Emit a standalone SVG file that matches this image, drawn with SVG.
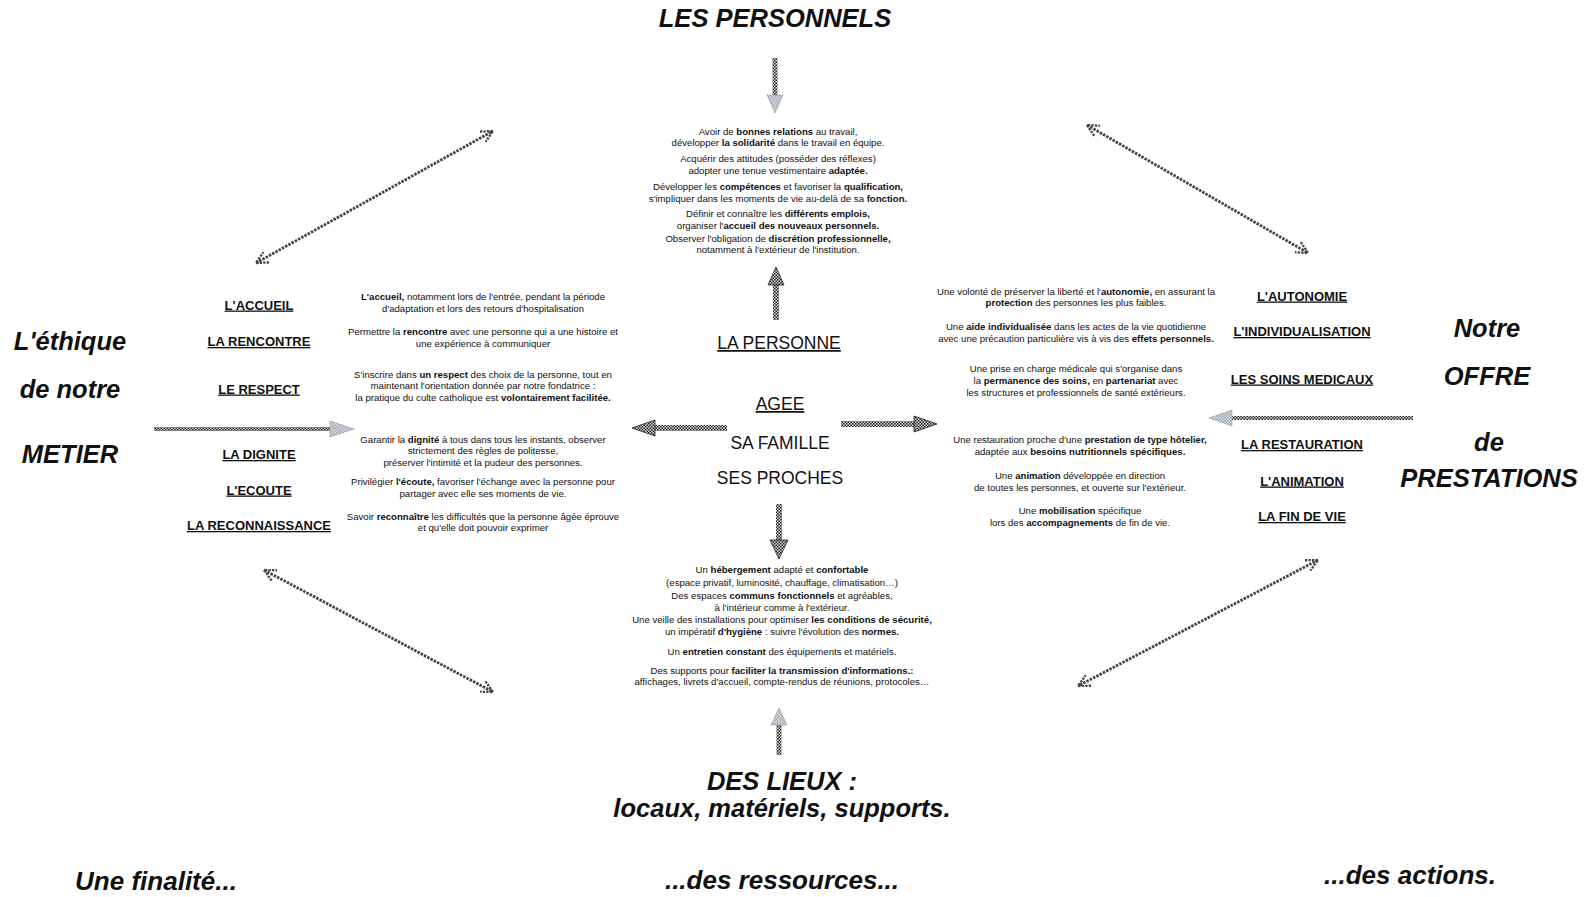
<svg xmlns="http://www.w3.org/2000/svg" width="1586" height="897" viewBox="0 0 1586 897">
<style>
.t{font-family:"Liberation Sans",Arial,sans-serif;fill:#111;text-anchor:middle}
.big{font-size:25.5px;font-weight:bold;font-style:italic}
.foot{font-size:26px}
.lab{font-size:13px;font-weight:bold;text-decoration:underline}
.mid{font-size:17.5px}
.s{font-size:9.6px}
.b{font-weight:bold}
.diag{fill:none;stroke:#444;stroke-width:2.8;stroke-dasharray:2.5 1.2}
</style>
<defs>
<pattern id="chk" width="3" height="3" patternUnits="userSpaceOnUse">
<rect width="3" height="3" fill="#e8e8e8"/>
<rect width="1.5" height="1.5" fill="#111"/>
<rect x="1.5" y="1.5" width="1.5" height="1.5" fill="#111"/>
</pattern>
<pattern id="chkL" width="3" height="3" patternUnits="userSpaceOnUse">
<rect width="3" height="3" fill="#dfe3ea"/>
<rect width="1.5" height="1.5" fill="#9aa0aa"/>
<rect x="1.5" y="1.5" width="1.5" height="1.5" fill="#9aa0aa"/>
</pattern>
<marker id="ah" viewBox="0 0 12 12" refX="11" refY="6" markerWidth="14" markerHeight="14" markerUnits="userSpaceOnUse" orient="auto-start-reverse">
<path d="M1,1 L11,6 L1,11" fill="none" stroke="#444" stroke-width="2" stroke-dasharray="2 1"/>
</marker>
</defs>

<g id="connectors">
<line class="diag" x1="256" y1="263" x2="493" y2="131" marker-start="url(#ah)" marker-end="url(#ah)"/>
<line class="diag" x1="1087" y1="125" x2="1308" y2="253" marker-start="url(#ah)" marker-end="url(#ah)"/>
<line class="diag" x1="264" y1="570" x2="493" y2="692" marker-start="url(#ah)" marker-end="url(#ah)"/>
<line class="diag" x1="1318" y1="560" x2="1078" y2="686" marker-start="url(#ah)" marker-end="url(#ah)"/>
<g id="arrow-top">
<rect x="772.5" y="58" width="5" height="38" fill="url(#chk)"/>
<polygon points="767,95 783,95 775,113" fill="url(#chkL)" stroke="#888" stroke-width="0.8" stroke-dasharray="1.5 1"/>
</g>
<g id="arrow-personne">
<rect x="773" y="284" width="6" height="36" fill="url(#chk)"/>
<polygon points="776,267 784,285 768,285" fill="url(#chk)" stroke="#222" stroke-width="0.8"/>
</g>
<g id="arrow-left">
<rect x="653" y="425" width="74" height="6" fill="url(#chk)"/>
<polygon points="632,428 655,420 655,436" fill="url(#chk)" stroke="#222" stroke-width="0.8"/>
</g>
<g id="arrow-right">
<rect x="841" y="421" width="74" height="6" fill="url(#chk)"/>
<polygon points="937,424 914,416 914,432" fill="url(#chk)" stroke="#222" stroke-width="0.8"/>
</g>
<g id="arrow-down">
<rect x="776" y="504" width="6" height="37" fill="url(#chk)"/>
<polygon points="770,540 788,540 779,559" fill="url(#chk)" stroke="#222" stroke-width="0.8"/>
</g>
<g id="arrow-bottom">
<rect x="776.5" y="724" width="5" height="31" fill="url(#chk)"/>
<polygon points="779,708 787,725 771,725" fill="url(#chkL)" stroke="#888" stroke-width="0.8" stroke-dasharray="1.5 1"/>
</g>
<g id="arrow-ethique">
<rect x="154" y="427" width="178" height="4" fill="url(#chk)"/>
<polygon points="354,429 330,421 330,437" fill="url(#chkL)" stroke="#888" stroke-width="0.8" stroke-dasharray="1.5 1"/>
</g>
<g id="arrow-offre">
<rect x="1230" y="416" width="183" height="4" fill="url(#chk)"/>
<polygon points="1209,418 1232,410 1232,426" fill="url(#chkL)" stroke="#888" stroke-width="0.8" stroke-dasharray="1.5 1"/>
</g>
</g>

<g id="les-personnels"><text class="t big" x="775" y="27">LES PERSONNELS</text></g>

<g id="personnels-text" class="t s">
<text x="778" y="135">Avoir de <tspan class="b">bonnes relations</tspan> au travail,</text>
<text x="778" y="146">développer <tspan class="b">la solidarité</tspan> dans le travail en équipe.</text>
<text x="778" y="162">Acquérir des attitudes (posséder des réflexes)</text>
<text x="778" y="174">adopter une tenue vestimentaire <tspan class="b">adaptée.</tspan></text>
<text x="778" y="190">Développer les <tspan class="b">compétences</tspan> et favoriser la <tspan class="b">qualification,</tspan></text>
<text x="778" y="202">s'impliquer dans les moments de vie au-delà de sa <tspan class="b">fonction.</tspan></text>
<text x="778" y="216.5">Définir et connaître les <tspan class="b">différents emplois,</tspan></text>
<text x="778" y="228.5">organiser l'<tspan class="b">accueil des nouveaux personnels.</tspan></text>
<text x="778" y="241.5">Observer l'obligation de <tspan class="b">discrétion professionnelle,</tspan></text>
<text x="778" y="253">notamment à l'extérieur de l'institution.</text>
</g>

<g id="personne">
<text class="t mid" x="779" y="349" style="text-decoration:underline">LA PERSONNE</text>
<text class="t mid" x="780" y="410" style="text-decoration:underline">AGEE</text>
<text class="t mid" x="780" y="448.5">SA FAMILLE</text>
<text class="t mid" x="780" y="484">SES PROCHES</text>
</g>

<g id="ethique">
<text class="t big" x="70" y="350">L'éthique</text>
<text class="t big" x="70" y="398">de notre</text>
<text class="t big" x="70" y="463">METIER</text>
</g>

<g id="ethique-labels" class="t lab">
<text x="259" y="309.5">L'ACCUEIL</text>
<text x="259" y="346">LA RENCONTRE</text>
<text x="259" y="393.5">LE RESPECT</text>
<text x="259" y="459">LA DIGNITE</text>
<text x="259" y="494.5">L'ECOUTE</text>
<text x="259" y="530">LA RECONNAISSANCE</text>
</g>

<g id="ethique-text" class="t s">
<text x="483" y="299.5"><tspan class="b">L'accueil,</tspan> notamment lors de l'entrée, pendant la période</text>
<text x="483" y="311.5">d'adaptation et lors des retours d'hospitalisation</text>
<text x="483" y="335">Permettre la <tspan class="b">rencontre</tspan> avec une personne qui a une histoire et</text>
<text x="483" y="347">une expérience à communiquer</text>
<text x="483" y="377.5">S'inscrire dans <tspan class="b">un respect</tspan> des choix de la personne, tout en</text>
<text x="483" y="388.5">maintenant l'orientation donnée par notre fondatrice :</text>
<text x="483" y="400.5">la pratique du culte catholique est <tspan class="b">volontairement facilitée.</tspan></text>
<text x="483" y="443">Garantir la <tspan class="b">dignité</tspan> à tous dans tous les instants, observer</text>
<text x="483" y="454">strictement des règles de politesse,</text>
<text x="483" y="465.5">préserver l'intimité et la pudeur des personnes.</text>
<text x="483" y="484.5">Privilégier <tspan class="b">l'écoute,</tspan> favoriser l'échange avec la personne pour</text>
<text x="483" y="496.5">partager avec elle ses moments de vie.</text>
<text x="483" y="520">Savoir <tspan class="b">reconnaître</tspan> les difficultés que la personne âgée éprouve</text>
<text x="483" y="531">et qu'elle doit pouvoir exprimer</text>
</g>

<g id="offre">
<text class="t big" x="1487" y="337">Notre</text>
<text class="t big" x="1487" y="385">OFFRE</text>
<text class="t big" x="1489" y="450.5">de</text>
<text class="t big" x="1489" y="486.5">PRESTATIONS</text>
</g>

<g id="offre-labels" class="t lab">
<text x="1302" y="300.5">L'AUTONOMIE</text>
<text x="1302" y="336">L'INDIVIDUALISATION</text>
<text x="1302" y="383.5">LES SOINS MEDICAUX</text>
<text x="1302" y="449">LA RESTAURATION</text>
<text x="1302" y="485.5">L'ANIMATION</text>
<text x="1302" y="521">LA FIN DE VIE</text>
</g>

<g id="offre-text" class="t s">
<text x="1076" y="294.5">Une volonté de préserver la liberté et l'<tspan class="b">autonomie,</tspan> en assurant la</text>
<text x="1076" y="305.5"><tspan class="b">protection</tspan> des personnes les plus faibles.</text>
<text x="1076" y="330">Une <tspan class="b">aide individualisée</tspan> dans les actes de la vie quotidienne</text>
<text x="1076" y="342">avec une précaution particulière vis à vis des <tspan class="b">effets personnels.</tspan></text>
<text x="1076" y="372">Une prise en charge médicale qui s'organise dans</text>
<text x="1076" y="383.5">la <tspan class="b">permanence des soins,</tspan> en <tspan class="b">partenariat</tspan> avec</text>
<text x="1076" y="395.5">les structures et professionnels de santé extérieurs.</text>
<text x="1080" y="443">Une restauration proche d'une <tspan class="b">prestation de type hôtelier,</tspan></text>
<text x="1080" y="455">adaptée aux <tspan class="b">besoins nutritionnels spécifiques.</tspan></text>
<text x="1080" y="478.5">Une <tspan class="b">animation</tspan> développée en direction</text>
<text x="1080" y="490.5">de toutes les personnes, et ouverte sur l'extérieur.</text>
<text x="1080" y="514">Une <tspan class="b">mobilisation</tspan> spécifique</text>
<text x="1080" y="526">lors des <tspan class="b">accompagnements</tspan> de fin de vie.</text>
</g>

<g id="lieux-text" class="t s">
<text x="782" y="573">Un <tspan class="b">hébergement</tspan> adapté et <tspan class="b">confortable</tspan></text>
<text x="782" y="586">(espace privatif, luminosité, chauffage, climatisation…)</text>
<text x="782" y="599">Des espaces <tspan class="b">communs fonctionnels</tspan> et agréables,</text>
<text x="782" y="610.5">à l'intérieur comme à l'extérieur.</text>
<text x="782" y="622.5">Une veille des installations pour optimiser <tspan class="b">les conditions de sécurité,</tspan></text>
<text x="782" y="634.5">un impératif <tspan class="b">d'hygiène</tspan> : suivre l'évolution des <tspan class="b">normes.</tspan></text>
<text x="782" y="654.5">Un <tspan class="b">entretien constant</tspan> des équipements et matériels.</text>
<text x="782" y="674">Des supports pour <tspan class="b">faciliter la transmission d'informations.:</tspan></text>
<text x="782" y="685">affichages, livrets d'accueil, compte-rendus de réunions, protocoles…</text>
</g>

<g id="des-lieux">
<text class="t big" x="782" y="790">DES LIEUX :</text>
<text class="t big" x="782" y="817">locaux, matériels, supports.</text>
</g>

<g id="footer">
<text class="t big foot" x="156" y="890">Une finalité...</text>
<text class="t big foot" x="782" y="889">...des ressources...</text>
<text class="t big foot" x="1410" y="884">...des actions.</text>
</g>
</svg>
